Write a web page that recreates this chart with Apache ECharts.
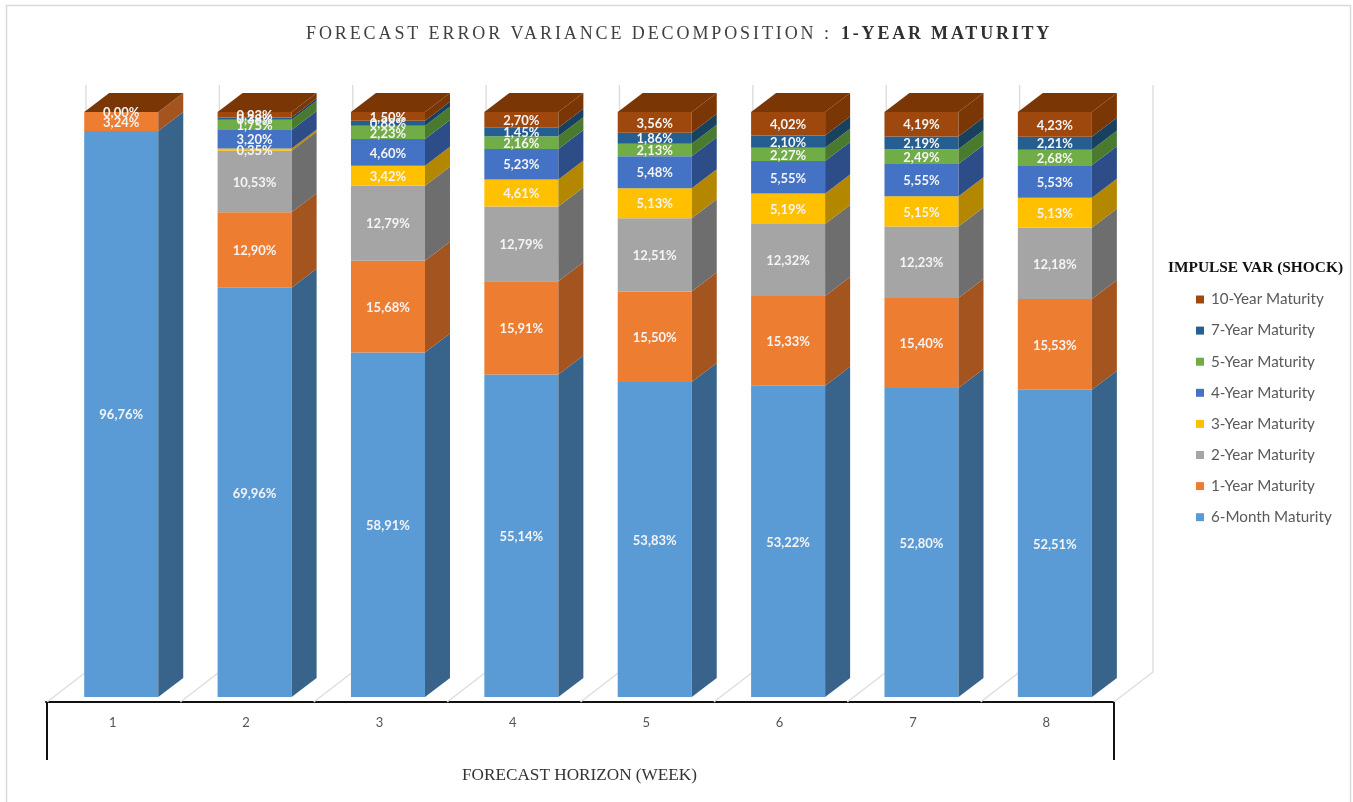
<!DOCTYPE html>
<html><head><meta charset="utf-8">
<style>html,body{margin:0;padding:0;background:#fff}#c{width:1353px;height:802px;filter:blur(0.45px)}</style>
<script src="https://cdn.jsdelivr.net/npm/echarts@6/dist/echarts.min.js"></script>
</head><body><div id="c"></div>
<script>
const categories = ['1','2','3','4','5','6','7','8'];
const seriesNames = ['6-Month Maturity','1-Year Maturity','2-Year Maturity','3-Year Maturity','4-Year Maturity','5-Year Maturity','7-Year Maturity','10-Year Maturity'];
const sixMonth = [96.76,69.96,58.91,55.14,53.83,53.22,52.80,52.51];
const oneYear  = [3.24,12.90,15.68,15.91,15.50,15.33,15.40,15.53];
const twoYear  = [null,10.53,12.79,12.79,12.51,12.32,12.23,12.18];
const threeYear= [null,0.35,3.42,4.61,5.13,5.19,5.15,5.13];
const fourYear = [null,3.20,4.60,5.23,5.48,5.55,5.55,5.53];
const fiveYear = [null,1.75,2.23,2.16,2.13,2.27,2.49,2.68];
const sevenYear= [null,0.38,0.88,1.45,1.86,2.10,2.19,2.21];
const tenYear  = [0.00,0.93,1.50,2.70,3.56,4.02,4.19,4.23];
const allValues = [sixMonth,oneYear,twoYear,threeYear,fourYear,fiveYear,sevenYear,tenYear];
const frontColors = ['#5B9BD5','#ED7D31','#A5A5A5','#FFC000','#4472C4','#70AD47','#255E91','#9E480E'];
const sideColors  = ['#38648C','#A3541F','#6E6E6E','#B38700','#2C4D87','#4A7A2E','#18405F','#7A3604'];
const topColor = '#7A3604';
const titleMain = 'FORECAST ERROR VARIANCE DECOMPOSITION :';
const titleBold = '1-YEAR MATURITY';
const legendTitle = 'IMPULSE VAR (SHOCK)';
const xName = 'FORECAST HORIZON (WEEK)';

// tracked capitals in the heading
const tracked = {[titleMain]:'2.9px',[titleBold]:'2.8px'};
const nativeFill = CanvasRenderingContext2D.prototype.fillText;
CanvasRenderingContext2D.prototype.fillText = function(t,x,y,m){
  this.letterSpacing = tracked[t] || '0px';
  return m===undefined ? nativeFill.call(this,t,x,y) : nativeFill.call(this,t,x,y,m);
};

const DX = 25, DY = -19;
function fmt(v){return v.toFixed(2).replace('.',',')+'%';}

function renderSeg(si){
  return function(params, api){
    const cat = api.value(0), a = api.value(1), b = api.value(2), raw = allValues[si][cat];
    if (raw === null) return null;
    const band = api.size([1,0])[0];
    const w = band*0.555, off = band*0.064;
    const p0 = api.coord([cat,a]), p1 = api.coord([cat,b]);
    const x0 = p0[0]+off-w/2, x1 = x0+w, y0 = p0[1], y1 = p1[1];
    const kids = [
      {type:'rect',shape:{x:x0,y:y1,width:w,height:y0-y1},style:{fill:frontColors[si]},z2:si+1},
      {type:'polygon',shape:{points:[[x1,y0],[x1+DX,y0+DY],[x1+DX,y1+DY],[x1,y1]]},style:{fill:sideColors[si]},z2:si+1}
    ];
    if (si === allValues.length-1) kids.push({type:'polygon',shape:{points:[[x0,y1],[x1,y1],[x1+DX,y1+DY],[x0+DX,y1+DY]]},style:{fill:topColor},z2:si+2});
    kids.push({type:'text',z2:100,style:{text:fmt(raw),x:x0+w/2,y:(y0+y1)/2+1,align:'center',verticalAlign:'middle',fill:'#F4F4F4',font:'bold 13px Lato'}});
    return {type:'group',children:kids};
  };
}
function segData(si){
  return categories.map((c,i)=>{
    let s=0; for(let k=0;k<si;k++) s+=allValues[k][i]||0;
    return [i,s,s+(allValues[si][i]||0)];
  });
}
function renderWall(params, api){
  const cat = api.value(0), band = api.size([1,0])[0];
  const p = api.coord([cat,0]), t = api.coord([cat,100]);
  const line = {stroke:'#DDDDDD',lineWidth:1.4,fill:null};
  const at = (x)=>[
    {type:'polyline',shape:{points:[[x+1,p[1]+5],[x+40,p[1]-25],[x+40,t[1]-27]]},style:line}
  ];
  const left = p[0]-band/2, right = p[0]+band/2;
  let kids = at(left);
  if (cat === categories.length-1) kids = kids.concat(at(right));
  const ink = {stroke:'#111',lineWidth:2,fill:null};
  if (cat === 0) kids.push({type:'line',shape:{x1:left+1,y1:p[1]+5,x2:left+1,y2:p[1]+63},style:ink,z2:5});
  if (cat === categories.length-1) kids.push({type:'line',shape:{x1:right+1,y1:p[1]+5,x2:right+1,y2:p[1]+63},style:ink,z2:5});
  return {type:'group',children:kids};
}

const chart = echarts.init(document.getElementById('c'),null,{renderer:'canvas'});
chart.setOption({
  animation:false,
  backgroundColor:'#fff',
  graphic:[{type:'rect',z:-1,shape:{x:6.5,y:5.5,width:1344,height:820},style:{fill:null,stroke:'#D9D9D9',lineWidth:1.5}}],
  title:[
    {text:titleMain,left:306,top:25,padding:0,textStyle:{fontFamily:'Liberation Serif',fontWeight:'normal',fontSize:18,color:'#404040'}},
    {text:titleBold,left:841,top:25,padding:0,textStyle:{fontFamily:'Liberation Serif',fontWeight:'bold',fontSize:18,color:'#303030'}},
    {text:legendTitle,left:1168,top:261,padding:0,textStyle:{fontFamily:'Liberation Serif',fontWeight:'bold',fontSize:15.4,color:'#111'}}
  ],
  legend:{
    data:seriesNames.slice().reverse(),
    orient:'vertical',left:1196,top:292,padding:0,
    itemWidth:8,itemHeight:8,itemGap:16.1,icon:'rect',selectedMode:false,
    textStyle:{fontFamily:'Lato',fontSize:15.2,color:'#595959',padding:[0,0,0,2],height:14,lineHeight:14}
  },
  grid:{left:46,width:1067,top:112,height:585},
  xAxis:{
    type:'category',data:categories,offset:5,
    axisLine:{show:true,onZero:false,lineStyle:{color:'#111',width:2}},
    axisTick:{show:false},
    axisLabel:{margin:14,color:'#555',fontFamily:'Lato',fontSize:13},
    name:xName,nameLocation:'middle',nameGap:65,
    nameTextStyle:{fontFamily:'Liberation Serif',fontSize:17.2,color:'#333'}
  },
  yAxis:{type:'value',min:0,max:100,show:false},
  tooltip:{show:false},
  series:[
    {type:'custom',name:'wall',silent:true,z:1,renderItem:renderWall,data:categories.map((c,i)=>[i]),encode:{x:0},clip:false}
  ].concat(seriesNames.map((n,si)=>({
    type:'custom',name:n,z:2,clip:false,silent:true,
    itemStyle:{color:frontColors[si]},
    renderItem:renderSeg(si),
    encode:{x:0,y:[1,2]},
    data:segData(si)
  })))
});
</script></body></html>
